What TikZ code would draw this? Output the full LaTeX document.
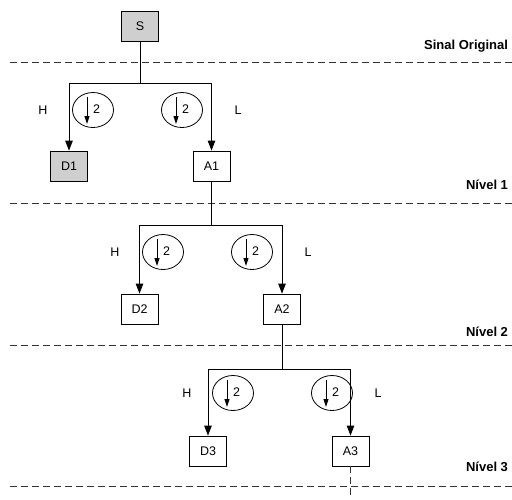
\documentclass[tikz,border=0pt]{standalone}
\usepackage{fontspec}
\setmainfont{Liberation Sans}
\usetikzlibrary{arrows.meta,calc,shapes.geometric}

\tikzset{
  box/.style={draw, line width=0.8pt, minimum width=37pt, minimum height=30pt,
    inner sep=0pt, font=\fontsize{12.5}{14}\selectfont},
  graybox/.style={box, fill=gray!38},
  down/.style={draw, ellipse, line width=0.8pt, minimum width=41pt, minimum height=35pt, inner sep=0pt},
  conn/.style={line width=0.8pt},
  arr/.style={conn, -{Triangle[length=10pt,width=7.5pt]}},
  small/.style={line width=1pt, -{Triangle[length=8pt,width=5pt]}},
  level/.style={dashed, dash pattern=on 7pt off 4pt, line width=0.8pt, black!80},
  lvltext/.style={anchor=east, font=\fontsize{13}{15}\selectfont\bfseries},
  band/.style={font=\fontsize{12.5}{14}\selectfont}
}

% decimation symbol: ellipse with a down arrow and the factor 2
\newcommand{\decim}[3]{%
  \node[down] (#1) at (#2,#3) {};
  \draw[small] ($(#1)+(-6,-13)$) -- ($(#1)+(-6,14)$);
  \node[band, anchor=west, inner sep=0pt] at ($(#1)+(0,-1)$) {2};
}

\begin{document}
\begin{tikzpicture}[x=1pt, y=-1pt]
\useasboundingbox (0,0) rectangle (512,499);

% level separators
\draw[level] (10,62) -- (512,62);
\draw[level] (10,203) -- (512,203);
\draw[level] (10,345) -- (512,345);
\draw[level] (10,486) -- (512,486);

\node[lvltext] (t0) at (511.5,46) {Sinal Original};
\node[lvltext] (t1) at (511.5,185) {Nível 1};
\node[lvltext] (t2) at (511.5,332) {Nível 2};
\node[lvltext] (t3) at (511.5,467) {Nível 3};

% signal and coefficients
\node[graybox] (S)  at (140,26.5) {S};
\node[graybox] (D1) at (69,166) {D1};
\node[box]     (A1) at (211.5,166) {A1};
\node[box]     (D2) at (139.5,309) {D2};
\node[box]     (A2) at (282,309) {A2};
\node[box]     (D3) at (208,451) {D3};
\node[box]     (A3) at (350.5,451) {A3};

% level 1
\coordinate (j1) at (140,83);
\draw[conn] (S.south) -- (j1);
\draw[arr] (j1) -| (D1.north);
\draw[arr] (j1) -| (A1.north);
\decim{c1h}{93}{110}
\decim{c1l}{182}{110}
\node[band] (h1) at (43,110) {H};
\node[band] (l1) at (238,110) {L};

% level 2
\coordinate (j2) at (211.5,225);
\draw[conn] (A1.south) -- (j2);
\draw[arr] (j2) -| (D2.north);
\draw[arr] (j2) -| (A2.north);
\decim{c2h}{163}{252}
\decim{c2l}{252}{252}
\node[band] (h2) at (115,252) {H};
\node[band] (l2) at (308,252) {L};

% level 3
\coordinate (j3) at (282,369);
\draw[conn] (A2.south) -- (j3);
\draw[arr] (j3) -| (D3.north);
\draw[arr] (j3) -| (A3.north);
\decim{c3h}{233}{393}
\decim{c3l}{332}{393}
\node[band] (h3) at (187,393) {H};
\node[band] (l3) at (378,393) {L};

% continuation below the last level
\coordinate (e3) at (350.5,499);
\draw[level] (A3.south) -- (e3);
\end{tikzpicture}
\end{document}
